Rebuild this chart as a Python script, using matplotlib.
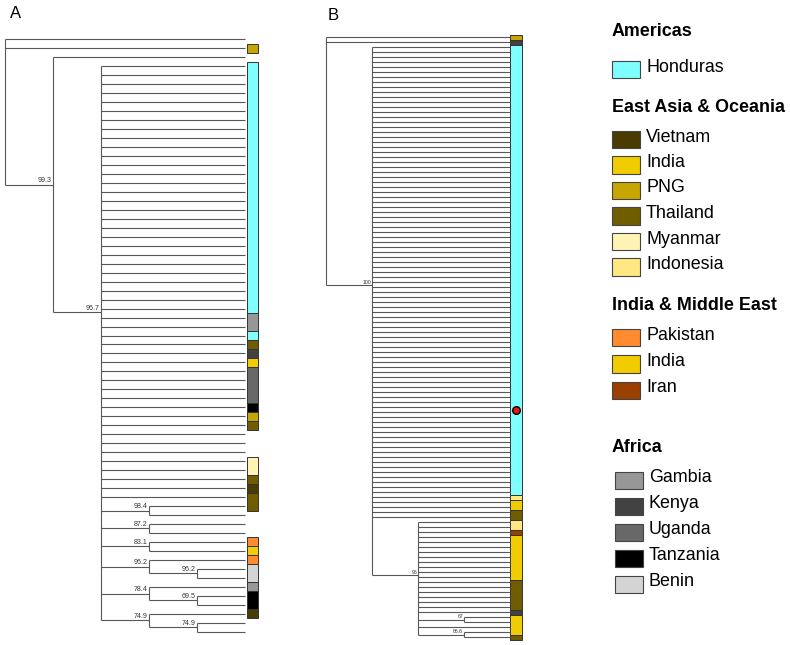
import matplotlib
matplotlib.use('Agg')
import matplotlib.pyplot as plt
from matplotlib.patches import Rectangle

plt.rcParams['font.family'] = ['Liberation Sans', 'DejaVu Sans']

# Trees in Newick form. Leaves are labelled with their country code,
# "-" means no colour box, "XXX*n" means n sibling leaves of that country.
tree_a = ("(-,PNG,(-,(HON*28,GAM*2,HON,THA,KEN,IND,UGA*4,TAN,PNG,THA,-*3,MYA*2,THA,VIE,THA,"
          "(THA,-)98.4,(-,-)87.2,(PAK,IND)83.1,(PAK,(BEN,BEN)96.2)96.2,"
          "(GAM,(TAN,TAN)69.5)78.4,(VIE,(-,-)74.9)74.9)96.7)99.3)")
tree_b = ("(PNG,KEN,(HON*90,IDN,IND*2,THA*2,"
          "(IDN*2,IRN,IND*9,THA*6,KEN,(IND,IND)67,IND,(IND,THA)86.6)96)100)")
marker_b_leaf = 74.5

country_names = {
    'HON': 'Honduras', 'VIE': 'Vietnam', 'IND': 'India', 'PNG': 'PNG',
    'THA': 'Thailand', 'MYA': 'Myanmar', 'IDN': 'Indonesia', 'PAK': 'Pakistan',
    'IRN': 'Iran', 'GAM': 'Gambia', 'KEN': 'Kenya', 'UGA': 'Uganda',
    'TAN': 'Tanzania', 'BEN': 'Benin',
}
country_colors = {
    'HON': '#80FFFF', 'VIE': '#4A3C00', 'IND': '#F0CC00', 'PNG': '#C6A600',
    'THA': '#6F5D00', 'MYA': '#FFF3B5', 'IDN': '#FFE782', 'PAK': '#FF8A30',
    'IRN': '#9A4000', 'GAM': '#979797', 'KEN': '#424242', 'UGA': '#686868',
    'TAN': '#000000', 'BEN': '#D4D4D4',
}
legend_groups = ['Americas', 'East Asia & Oceania', 'India & Middle East', 'Africa']
legend_items = [
    ['HON'],
    ['VIE', 'IND', 'PNG', 'THA', 'MYA', 'IDN'],
    ['PAK', 'IND', 'IRN'],
    ['GAM', 'KEN', 'UGA', 'TAN', 'BEN'],
]

W, H = 790, 645
LINE = '#585858'


def parse_newick(s):
    pos = 0

    def label():
        nonlocal pos
        start = pos
        while pos < len(s) and s[pos] not in ',()':
            pos += 1
        return s[start:pos]

    def node():
        nonlocal pos
        if s[pos] == '(':
            pos += 1
            kids = []
            while True:
                kids.extend(node())
                if s[pos] == ',':
                    pos += 1
                else:
                    break
            pos += 1
            return [{'kids': kids, 'support': label()}]
        name, _, n = label().partition('*')
        return [{'kids': [], 'name': name} for _ in range(int(n or 1))]

    return node()[0]


def layout(root):
    """Cladogram layout: x = depth, y = leaf index, inner node y = mean of children."""
    leaves = []
    inner_depths = []

    def walk(n, depth):
        n['depth'] = depth
        if not n['kids']:
            n['y'] = len(leaves)
            leaves.append(n)
            return
        inner_depths.append(depth)
        for c in n['kids']:
            walk(c, depth + 1)
        n['y'] = sum(c['y'] for c in n['kids']) / len(n['kids'])

    walk(root, 0)
    return leaves, max(inner_depths) + 1


def draw_tree(ax, root, tip, fs):
    def rec(n):
        if not n['kids']:
            return
        ys = [c['y'] for c in n['kids']]
        ax.plot([n['depth']] * 2, [min(ys), max(ys)], color=LINE, lw=0.8,
                solid_capstyle='butt')
        for c in n['kids']:
            cx = c['depth'] if c['kids'] else tip
            ax.plot([n['depth'], cx], [c['y']] * 2, color=LINE, lw=0.8,
                    solid_capstyle='butt')
            if c['kids'] and c['support']:
                ax.annotate(c['support'], (c['depth'], c['y']), xytext=(-0.8, 0.4),
                            textcoords='offset points', ha='right', va='bottom',
                            fontsize=fs, color='#333333')
            rec(c)
    rec(root)


def draw_strip(ax, leaves, x0, w):
    k = 0
    while k < len(leaves):
        name = leaves[k]['name']
        j = k
        while j + 1 < len(leaves) and leaves[j + 1]['name'] == name:
            j += 1
        if name != '-':
            ax.add_patch(Rectangle((x0, k - 0.5), w, j - k + 1,
                                   facecolor=country_colors[name],
                                   edgecolor='#333333', lw=0.7))
        k = j + 1


def panel_axes(fig, x_root, x_step, y_first, y_step):
    ax = fig.add_axes([0, 0, 1, 1])
    ax.set_xlim(-x_root / x_step, (W - x_root) / x_step)
    ax.set_ylim((H - y_first) / y_step, -y_first / y_step)
    ax.axis('off')
    return ax


fig = plt.figure(figsize=(W / 100, H / 100), dpi=100)

# Panel A
root_a = parse_newick(tree_a)
leaves_a, tip_a = layout(root_a)
ax_a = panel_axes(fig, 5, 48, 39.3, 8.976)
draw_tree(ax_a, root_a, tip_a, 5.1)
draw_strip(ax_a, leaves_a, tip_a + 0.05, 0.23)

# Panel B
root_b = parse_newick(tree_b)
leaves_b, tip_b = layout(root_b)
ax_b = panel_axes(fig, 326.3, 46, 37.3, 5.0)
draw_tree(ax_b, root_b, tip_b, 3.7)
draw_strip(ax_b, leaves_b, tip_b, 0.247)
ax_b.plot(tip_b + 0.124, marker_b_leaf, 'o', ms=5.5, mfc='#E8141B', mec='black', mew=1.0)

fig.text(10 / W, 1 - 14 / H, 'A', fontsize=12, va='center', ha='left')
fig.text(328 / W, 1 - 15 / H, 'B', fontsize=12, va='center', ha='left')

# Legend
ax_l = fig.add_axes([0, 0, 1, 1])
ax_l.set_xlim(0, W)
ax_l.set_ylim(H, 0)
ax_l.axis('off')
header_y = [32, 107, 306, 447]
first_item_gap = [35, 30, 29, 31]
item_step = [26, 25.5, 26.5, 26]
box_x = [612, 612, 612, 615]
for g, name in enumerate(legend_groups):
    ax_l.text(612, header_y[g], name, fontsize=12.9, fontweight='bold', va='center', ha='left')
    for i, code in enumerate(legend_items[g]):
        y = header_y[g] + first_item_gap[g] + i * item_step[g]
        ax_l.add_patch(Rectangle((box_x[g], y - 6.5), 28, 17.5,
                                 facecolor=country_colors[code], edgecolor='#444444', lw=0.8))
        ax_l.text(box_x[g] + 34, y, country_names[code], fontsize=12.9, va='center', ha='left')

fig.savefig('out.png', dpi=100)
